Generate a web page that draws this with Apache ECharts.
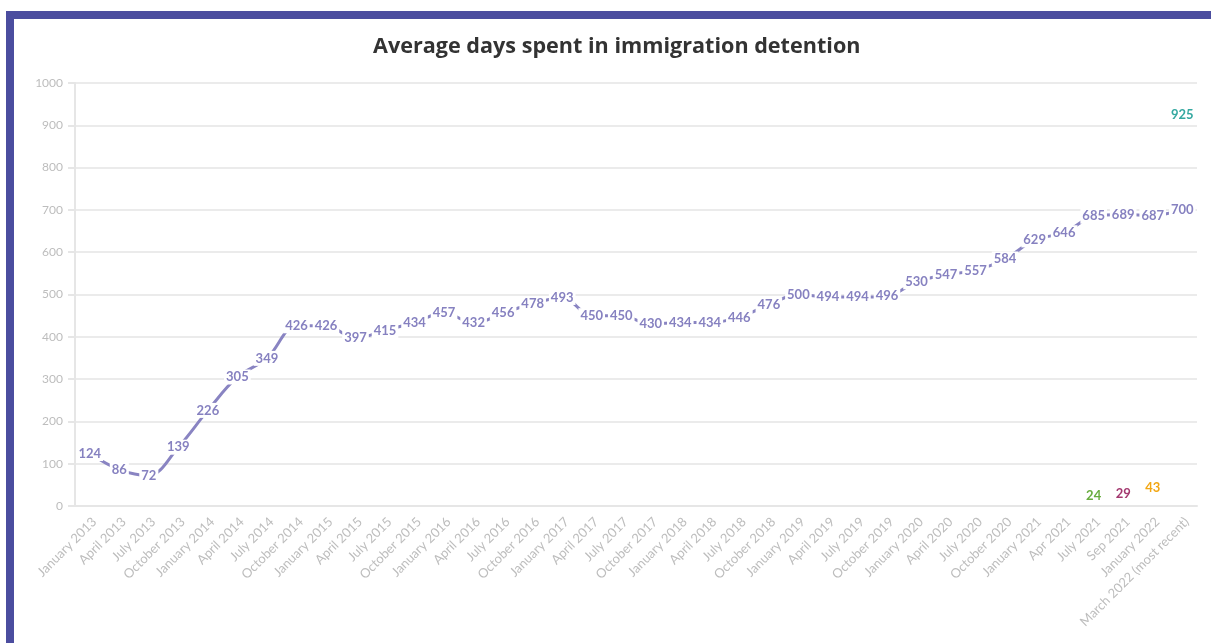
<!DOCTYPE html>
<html><head><meta charset="utf-8">
<script src="https://cdn.jsdelivr.net/npm/echarts@6/dist/echarts.min.js"></script>
<style>
html,body{margin:0;padding:0;background:#fff;}
#chart{position:absolute;left:0;top:0;width:1211px;height:643px;}
#frame{position:absolute;left:6px;top:11px;width:1205px;height:632px;border-top:8px solid #4b4d9f;border-left:8px solid #4b4d9f;box-sizing:border-box;pointer-events:none;}
</style></head>
<body>
<div id="chart"></div>
<div id="frame"></div>
<script>
const categories = ["January 2013","April 2013","July 2013","October 2013","January 2014","April 2014","July 2014","October 2014","January 2015","April 2015","July 2015","October 2015","January 2016","April 2016","July 2016","October 2016","January 2017","April 2017","July 2017","October 2017","January 2018","April 2018","July 2018","October 2018","January 2019","April 2019","July 2019","October 2019","January 2020","April 2020","July 2020","October 2020","January 2021","Apr 2021","July 2021","Sep 2021","January 2022","March 2022 (most recent)"];
const averageDays = [124,86,72,139,226,305,349,426,426,397,415,434,457,432,456,478,493,450,450,430,434,434,446,476,500,494,494,496,530,547,557,584,629,646,685,689,687,700];
// single-point series (value at one category, null elsewhere)
const tealCategory = "March 2022 (most recent)"; const tealValue = 925;
const greenCategory = "July 2021"; const greenValue = 24;
const maroonCategory = "Sep 2021"; const maroonValue = 29;
const orangeCategory = "January 2022"; const orangeValue = 43;
const yTicks = {min:0, max:1000, interval:100};

function single(cat, val){ return categories.map(c => c === cat ? val : null); }
function labelSeries(name, data, color){
  return {name, type:'line', data, symbol:'circle', symbolSize:1, showSymbol:true,
    itemStyle:{color:'rgba(0,0,0,0)'}, lineStyle:{width:0}, silent:true,
    label:{show:true, position:'inside', color, fontWeight:'bold', fontSize:13, fontFamily:'Lato'}};
}
const chart = echarts.init(document.getElementById('chart'));
chart.setOption({
  animation:false,
  title:{text:'Average days spent in immigration detention', left:368, top:31,
    textStyle:{fontFamily:'Open Sans', fontSize:21.6, fontWeight:'bold', color:'#333'}},
  grid:{left:75, right:14, top:83, bottom:137},
  xAxis:{type:'category', data:categories, boundaryGap:true,
    axisLine:{lineStyle:{color:'#e6e6e6', width:2}},
    axisTick:{alignWithLabel:true, length:7, lineStyle:{color:'#e6e6e6', width:2}},
    axisLabel:{rotate:45, interval:0, color:'#bdbdbd', fontSize:13, fontFamily:'Lato', margin:9, verticalAlign:'top'}},
  yAxis:{type:'value', min:yTicks.min, max:yTicks.max, interval:yTicks.interval,
    axisLine:{show:true, lineStyle:{color:'#e6e6e6', width:2}},
    axisTick:{show:true, length:7, lineStyle:{color:'#e6e6e6', width:2}},
    splitLine:{lineStyle:{color:'#ebebeb', width:2}},
    axisLabel:{color:'#bdbdbd', fontSize:12, fontFamily:'Lato', margin:12, formatter:v => String(v)}},
  series:[
    {name:'Average days', type:'line', data:averageDays, smooth:0.35, symbol:'circle', symbolSize:1, showSymbol:true,
      itemStyle:{color:'rgba(0,0,0,0)'},
      lineStyle:{color:'#8984c2', width:3},
      label:{show:true, position:'inside', color:'#8681c0', fontWeight:'bold', fontSize:13, fontFamily:'Lato',
        backgroundColor:'#fff', padding:[1,2]}},
    labelSeries('Teal', single(tealCategory, tealValue), '#34a8a0'),
    labelSeries('Green', single(greenCategory, greenValue), '#69ad40'),
    labelSeries('Maroon', single(maroonCategory, maroonValue), '#a3386f'),
    labelSeries('Orange', single(orangeCategory, orangeValue), '#f2a714')
  ]
});
</script>
</body></html>
